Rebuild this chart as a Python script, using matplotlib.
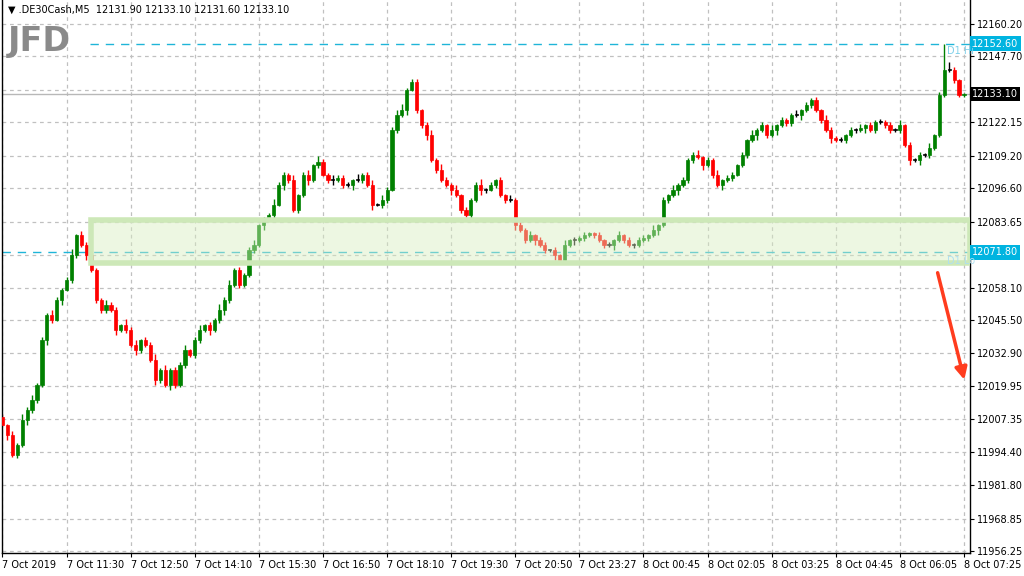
import numpy as np
import matplotlib

matplotlib.use("Agg")
import matplotlib.pyplot as plt
from matplotlib.patches import Rectangle

# close prices of the M5 candles, left to right
closes = [
    12005.0, 12001.1, 11993.4, 11997.3, 12006.9, 12010.8, 12014.7, 12020.5, 12037.9, 12047.6,
    12045.7, 12053.4, 12057.3, 12061.1, 12070.8, 12078.5, 12074.7, 12070.8, 12065.0, 12053.4,
    12049.5, 12051.5, 12049.5, 12041.8, 12043.7, 12041.8, 12036.0, 12034.0, 12037.9, 12036.0,
    12030.2, 12022.4, 12026.3, 12020.5, 12026.3, 12020.5, 12028.2, 12034.0, 12032.1, 12037.9,
    12041.8, 12043.7, 12041.8, 12045.7, 12049.5, 12053.4, 12059.2, 12065.0, 12059.2, 12063.1,
    12072.7, 12074.7, 12082.4, 12084.4, 12086.3, 12090.2, 12097.9, 12101.8, 12099.8, 12088.2,
    12094.0, 12101.8, 12099.8, 12105.6, 12106.8, 12101.8, 12099.8, 12099.8, 12100.6, 12097.9,
    12097.9, 12099.8, 12099.8, 12101.8, 12097.9, 12090.2, 12090.2, 12092.1, 12096.0, 12119.2,
    12125.0, 12126.9, 12134.7, 12137.8, 12126.9, 12121.1, 12117.2, 12107.6, 12103.7, 12099.8,
    12097.9, 12096.0, 12094.0, 12088.2, 12086.3, 12092.1, 12097.9, 12096.0, 12096.0, 12097.9,
    12099.8, 12094.0, 12092.1, 12092.1, 12082.4, 12080.5, 12076.6, 12078.5, 12076.6, 12074.7,
    12072.7, 12072.7, 12070.8, 12068.9, 12074.7, 12076.6, 12076.6, 12077.4, 12078.5, 12079.3,
    12078.5, 12076.6, 12074.7, 12074.7, 12076.6, 12078.5, 12076.6, 12074.7, 12074.7, 12076.6,
    12077.4, 12078.5, 12080.5, 12082.4, 12092.1, 12094.0, 12096.0, 12097.9, 12099.8, 12107.6,
    12109.5, 12108.7, 12105.6, 12107.6, 12101.8, 12097.9, 12099.8, 12100.6, 12101.8, 12105.6,
    12109.5, 12115.3, 12117.2, 12119.2, 12121.1, 12117.2, 12119.2, 12121.1, 12123.1, 12121.9,
    12125.0, 12125.0, 12126.9, 12128.9, 12130.8, 12126.9, 12123.1, 12119.2, 12116.1, 12115.3,
    12115.3, 12117.2, 12119.2, 12119.2, 12119.9, 12121.1, 12119.2, 12122.3, 12122.3, 12121.1,
    12119.2, 12119.2, 12121.1, 12113.4, 12107.6, 12107.6, 12109.5, 12109.5, 12112.2, 12117.2,
    12132.7, 12142.4, 12142.4, 12138.5, 12132.7, 12133.1,
]
first_open = 12008.0
# wick lengths in units of 0.6 points
wick_up = ("2131423121" "3212413221" "1322142312" "2413122312" "3121423121"
           "2312142213" "1231421322" "2141231322" "3412212314" "2131212412"
           "1213121312" "2121312121" "1212131212" "2131213121" "2312131221"
           "2131213121" "1312121321" "2121312121" "2131212131" "215211")
wick_dn = ("1312132213" "2131221312" "2213121321" "1321321212" "2131232121"
           "1213121321" "2131212312" "1312131221" "2131223121" "1312121321"
           "2121312131" "2131213121" "2121312121" "1213121312" "2131213121"
           "1213121312" "2131212131" "1212131212" "2121313121" "111211")
high_override = {191: 12152.6}

y_ticks = [12160.20, 12147.70, 12134.75, 12122.15, 12109.20, 12096.60, 12083.65, 12070.90,
           12058.10, 12045.50, 12032.90, 12019.95, 12007.35, 11994.40, 11981.80, 11968.85, 11956.25]
time_labels = ["7 Oct 2019", "7 Oct 11:30", "7 Oct 12:50", "7 Oct 14:10", "7 Oct 15:30",
               "7 Oct 16:50", "7 Oct 18:10", "7 Oct 19:30", "7 Oct 20:50", "7 Oct 23:27",
               "8 Oct 00:45", "8 Oct 02:05", "8 Oct 03:25", "8 Oct 04:45", "8 Oct 06:05",
               "8 Oct 07:25"]
d1_high = 12152.60
d1_low = 12071.80
bid = 12133.10
zone_lo, zone_hi = 12067.8, 12084.4

n = len(closes)
opens = [first_open] + closes[:-1]
highs = [max(o, c) + 0.6 * int(w) for o, c, w in zip(opens, closes, wick_up[:n])]
lows = [min(o, c) - 0.6 * int(w) for o, c, w in zip(opens, closes, wick_dn[:n])]
for i, v in high_override.items():
    highs[i] = v

W, H = 1024, 576
px = 960 / (n - 1)  # pixels per candle
fig = plt.figure(figsize=(W / 100, H / 100), dpi=100)
ax = fig.add_axes([2 / W, 23 / H, 968 / W, 553 / H])
ax.set_xlim(-0.1, (968 - 2) / px)
ax.set_ylim(11955.5, 12169.5)

# grid
tick_x = [64 * k / px for k in range(len(time_labels))]
for t in tick_x:
    ax.axvline(t, color="#c0c0c0", lw=0.9, ls=(0, (3, 3)), zorder=0)
for t in y_ticks:
    ax.axhline(t, color="#c0c0c0", lw=0.9, ls=(0, (3, 3)), zorder=0)

ax.axhline(d1_high, xmin=88 / 968, color="#1fb5d8", lw=1.0, ls=(0, (6, 5)), zorder=1)
ax.axhline(d1_low, color="#1fb5d8", lw=1.0, ls=(0, (6, 5)), zorder=1)
ax.axhline(bid, color="#b8b8b8", lw=1.0, zorder=1)

x = np.arange(n)
for i in range(n):
    up = closes[i] >= opens[i]
    col = "#008000" if up else "#ff0000"
    if closes[i] == opens[i]:
        col = "black"
    ax.vlines(x[i], lows[i], highs[i], color=col, lw=1, zorder=2)
    body = abs(closes[i] - opens[i])
    ax.add_patch(Rectangle((x[i] - 0.32, min(opens[i], closes[i])), 0.64, max(body, 0.25),
                           facecolor=col, edgecolor=col, lw=0.5, zorder=3))

# support zone
x0 = 88 / px
ax.add_patch(Rectangle((x0, zone_lo), (968 - 2) / px - x0, zone_hi - zone_lo,
                       facecolor="#d8eec0", alpha=0.45, edgecolor="none", zorder=4))
ax.add_patch(Rectangle((x0, zone_lo), (968 - 2) / px - x0, zone_hi - zone_lo,
                       facecolor="none", edgecolor="#cde8b8", lw=4, zorder=4))

ax.text(943 / px, d1_high - 1, "D1 Hi", color="#7fd0ea", fontsize=7, va="top", zorder=5)
ax.text(943 / px, d1_low - 1.5, "D1 Lo", color="#b0e0f0", fontsize=7, va="top", zorder=5)

# arrow
ax.annotate("", xy=(961 / px, 12021.5), xytext=(933 / px, 12065.0),
            arrowprops=dict(arrowstyle="-|>", color="#ff3c1e", lw=2.5, mutation_scale=18),
            zorder=6)

# tick labels hidden behind the price boxes are left blank
hidden = {12134.75, 12070.90}
ax.yaxis.tick_right()
ax.set_yticks(y_ticks)
ax.set_yticklabels(["" if v in hidden else f"{v:.2f}" for v in y_ticks], fontsize=7)
ax.set_xticks(tick_x)
ax.set_xticklabels(time_labels, fontsize=7, ha="left")
ax.tick_params(axis="both", length=3, pad=2)
for s in ax.spines.values():
    s.set_color("black")
    s.set_linewidth(1)
ax.spines["top"].set_visible(False)

for val, fc, tc in [(d1_high, "#00b4e0", "white"), (d1_low, "#00b4e0", "white"), (bid, "black", "white")]:
    ax.text(1.002, val, f"{val:.2f}", transform=ax.get_yaxis_transform(), fontsize=7,
            color=tc, va="center", ha="left",
            bbox=dict(boxstyle="square,pad=0.25", facecolor=fc, edgecolor="none"))

fig.text(8 / W, 1 - 10 / H, "\u25BC .DE30Cash,M5  12131.90 12133.10 12131.60 12133.10",
         fontsize=7, va="center")
fig.text(8 / W, 1 - 42 / H, "JFD", fontsize=24, fontweight="bold", color="#8a8a8a", va="center")

fig.savefig("out.png", dpi=100)
